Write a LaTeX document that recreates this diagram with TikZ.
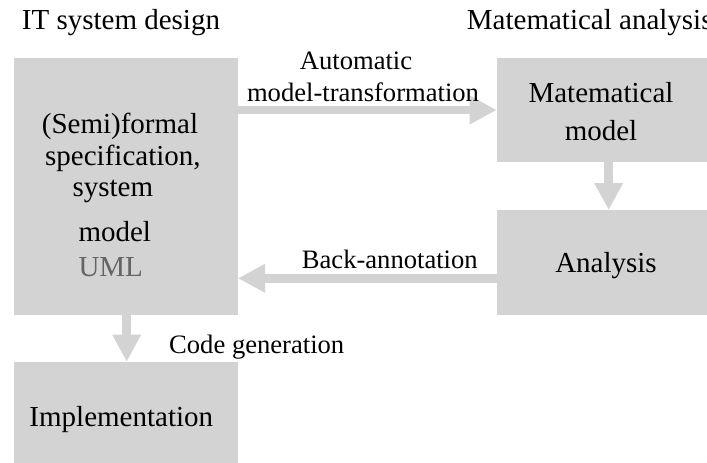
\documentclass[tikz,border=0pt]{standalone}
\usepackage{fontspec}
\setmainfont{Liberation Serif}
\usetikzlibrary{arrows.meta}
\definecolor{boxgray}{RGB}{211,211,211}
\definecolor{umlgray}{RGB}{100,100,100}

\begin{document}
\begin{tikzpicture}[x=1pt,y=1pt,yscale=-1,xscale=1,
  block/.style={fill=boxgray,draw=none,rectangle,anchor=north west,inner sep=0pt},
  bigtext/.style={font=\fontsize{29}{34}\selectfont,inner sep=0pt},
  smalltext/.style={font=\fontsize{26.6}{31}\selectfont,inner sep=0pt},
  flow/.style={draw=boxgray,line width=8.5pt,-{Triangle[width=27pt,length=27pt]}}]
\useasboundingbox (0,0) rectangle (707,463);

%Shape: Rectangle [spec]
\node [block,minimum width=224.4pt,minimum height=257.7pt] (spec) at (13.3,57.3) {};
%Shape: Rectangle [impl]
\node [block,minimum width=224.4pt,minimum height=110pt] (impl) at (13.3,361.7) {};
%Shape: Rectangle [mathmodel]
\node [block,minimum width=215pt,minimum height=104.4pt] (mathmodel) at (496.7,57.3) {};
%Shape: Rectangle [analysis]
\node [block,minimum width=215pt,minimum height=105pt] (analysis) at (496.7,210) {};

%Arrows
\draw [flow] (spec.east |- 0,110) -- (mathmodel.west |- 0,110);
\draw [flow] (mathmodel.south -| 608.7,0) -- (analysis.north -| 608.7,0);
\draw [flow] (analysis.west |- 0,278.3) -- (spec.east |- 0,278.3);
\draw [flow] (spec.south -| 126.7,0) -- (impl.north -| 126.7,0);

% Text Node
\node [bigtext,anchor=base west] (itdesign) at (21.7,29.3) {IT system design};
% Text Node
\node [bigtext,anchor=base west] (mathanalysis) at (466.7,29.3) {Matematical analysis};
% Text Node
\node [bigtext,anchor=base west] (spec1) at (41.7,133.3) {(Semi)formal};
\node [bigtext,anchor=base west] (spec2) at (45,165) {specification,};
\node [bigtext,anchor=base west] (spec3) at (72.3,196.7) {system};
\node [bigtext,anchor=base west] (spec4) at (78.3,241) {model};
\node [bigtext,anchor=base west,text=umlgray] (spec5) at (78.3,276.7) {UML};
% Text Node
\node [bigtext,anchor=base] (math1) at (601,102.3) {Matematical};
\node [bigtext,anchor=base] (math2) at (601,140) {model};
% Text Node
\node [bigtext,anchor=base] (anal1) at (606,272.7) {Analysis};
% Text Node
\node [bigtext,anchor=base] (impl1) at (121.3,426) {Implementation};
% Text Node
\node [smalltext,anchor=base] (auto1) at (356,69.3) {Automatic};
\node [smalltext,anchor=base] (auto2) at (363,101.7) {model-transformation};
% Text Node
\node [smalltext,anchor=base west] (back) at (301.7,268.3) {Back-annotation};
% Text Node
\node [smalltext,anchor=base west] (codegen) at (169,353.3) {Code generation};

\end{tikzpicture}
\end{document}
